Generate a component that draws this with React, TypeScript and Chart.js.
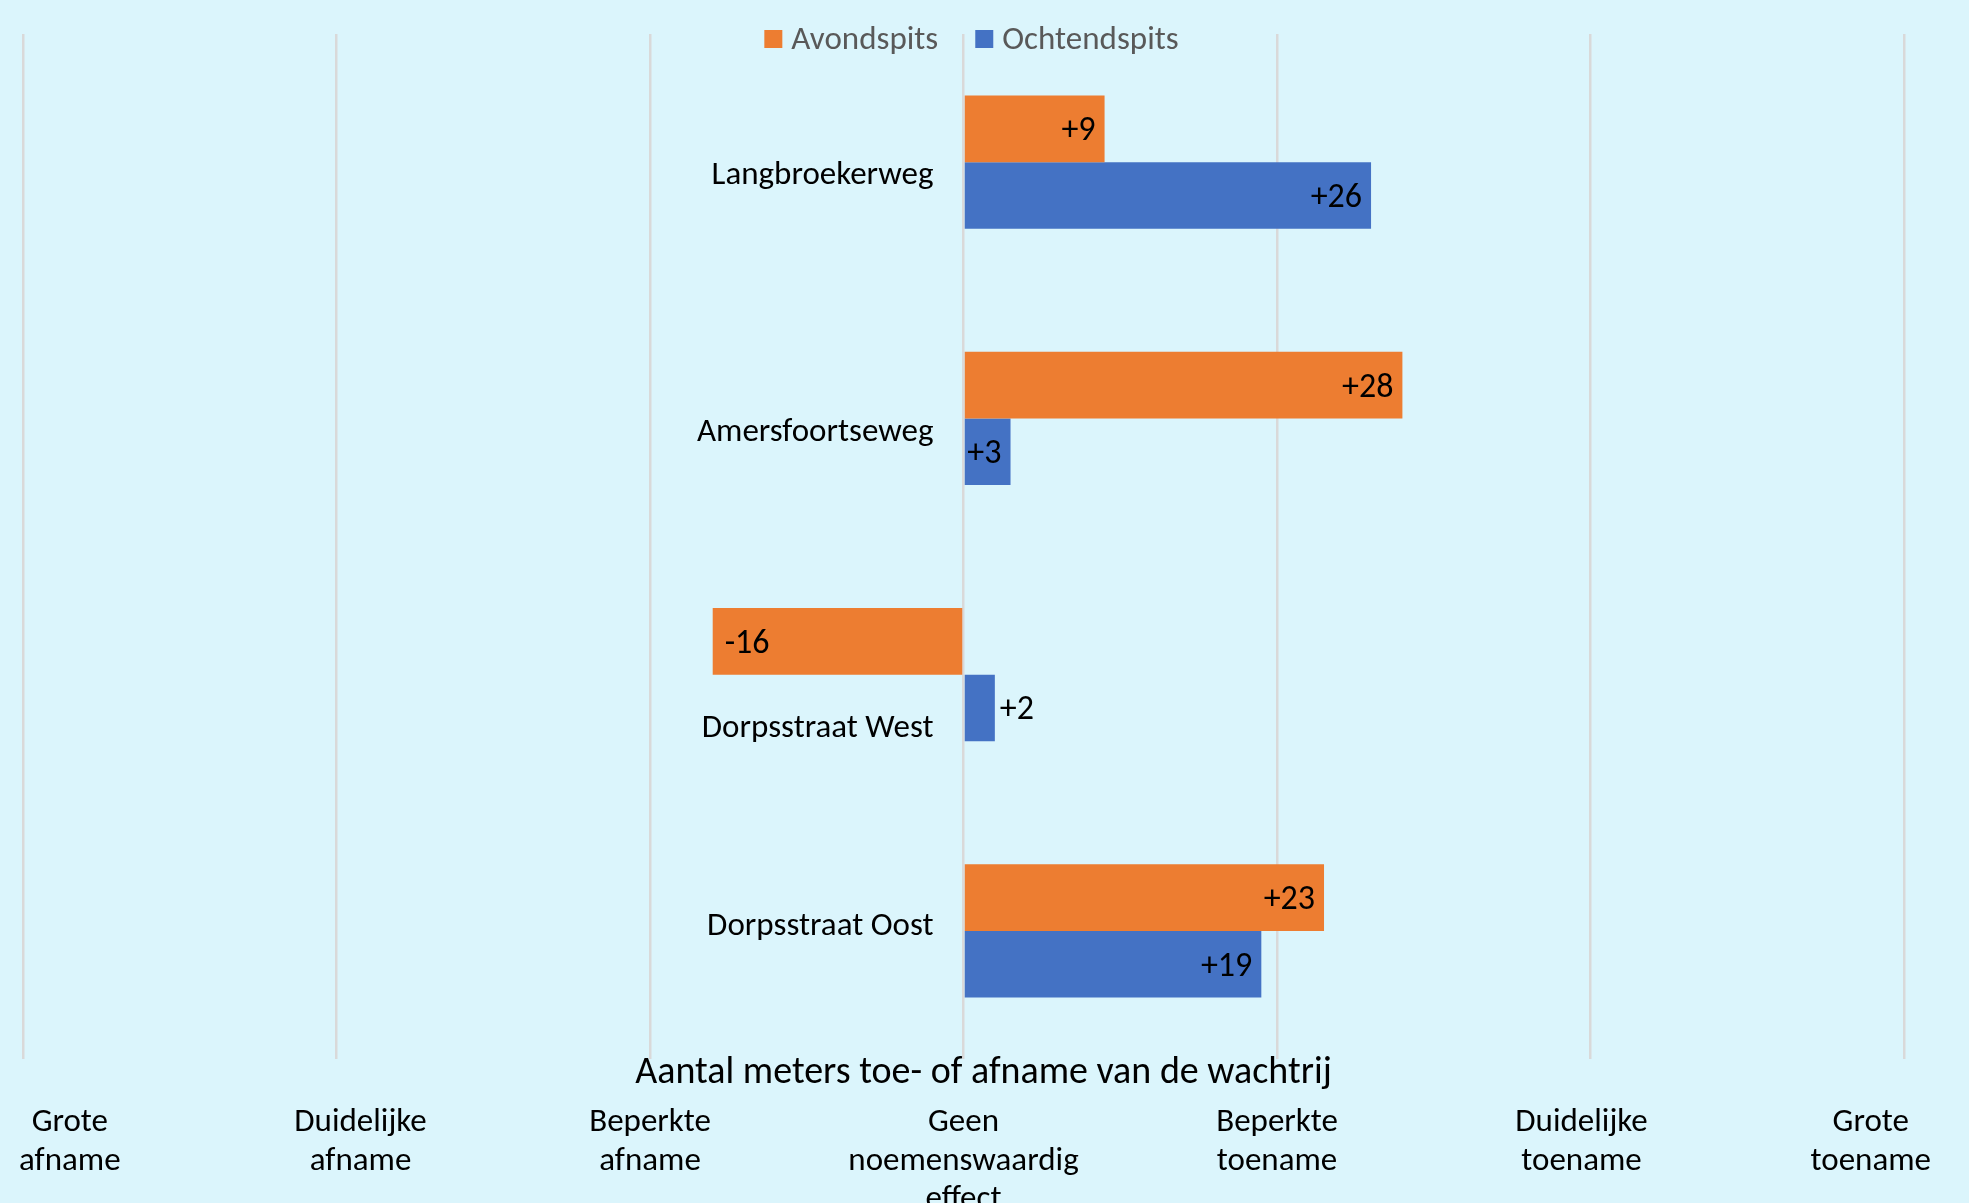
import React, { useEffect, useRef } from "react";
import { Chart, registerables } from "chart.js";

Chart.register(...registerables);

// Queue-length change per location, in metres
const categories = ["Langbroekerweg", "Amersfoortseweg", "Dorpsstraat West", "Dorpsstraat Oost"];
const seriesNames = ["Avondspits", "Ochtendspits"];
const avondspits = [9, 28, -16, 23];
const ochtendspits = [26, 3, 2, 19];

// Value axis: gridline positions and the verbal scale printed beneath them
const xTickValues = [-60, -40, -20, 0, 20, 40, 60];
const xTickLabels = [
  ["Grote", "afname"],
  ["Duidelijke", "afname"],
  ["Beperkte", "afname"],
  ["Geen", "noemenswaardig", "effect"],
  ["Beperkte", "toename"],
  ["Duidelijke", "toename"],
  ["Grote", "toename"],
];
const axisTitle = "Aantal meters toe- of afname van de wachtrij";

// Styling
const WIDTH = 1969;
const HEIGHT = 1203;
const BG = "#DBF5FC";
const ORANGE = "#ED7D31";
const BLUE = "#4472C4";
const GRID = "#D9D9D9";
const FONT = "Carlito, Lato, 'Open Sans', sans-serif";
const LABEL_SIZE = 33;
const VALUE_SIZE = 34;
const TITLE_SIZE = 38;
const TEXT_NUDGE = 3;
const categoryLabelShift = [11, 11, 51, -7];
const tickLabelShift = [0, 24, 0, 0, 0, -9, 0];

const font = (size: number) => `${size}px ${FONT}`;

const backgroundPlugin = {
  id: "bgFill",
  beforeDraw(chart: any) {
    const { ctx } = chart;
    ctx.save();
    ctx.fillStyle = BG;
    ctx.fillRect(0, 0, chart.width, chart.height);
    ctx.restore();
  },
};

const annotationsPlugin = {
  id: "chartText",
  afterDatasetsDraw(chart: any) {
    const { ctx, chartArea, scales } = chart;
    const x = scales.x;
    const y = scales.y;
    ctx.save();

    // value labels on the bars
    ctx.font = font(VALUE_SIZE);
    ctx.fillStyle = "#000";
    ctx.textBaseline = "middle";
    chart.data.datasets.forEach((ds: any, di: number) => {
      const meta = chart.getDatasetMeta(di);
      meta.data.forEach((bar: any, i: number) => {
        const v = ds.data[i] as number;
        const text = (v > 0 ? "+" : "") + v;
        const w = ctx.measureText(text).width;
        const len = Math.abs(bar.x - bar.base);
        const pad = 9;
        const ty = bar.y + TEXT_NUDGE;
        if (v >= 0) {
          if (w + pad <= len) {
            ctx.textAlign = "right";
            ctx.fillText(text, bar.x - pad, ty);
          } else {
            ctx.textAlign = "left";
            ctx.fillText(text, bar.x + 5, ty);
          }
        } else {
          if (w + pad <= len) {
            ctx.textAlign = "left";
            ctx.fillText(text, bar.x + pad + 3, ty);
          } else {
            ctx.textAlign = "right";
            ctx.fillText(text, bar.x - 5, ty);
          }
        }
      });
    });

    // category names beside the zero line
    ctx.font = font(LABEL_SIZE);
    const zero = x.getPixelForValue(0);
    ctx.textAlign = "right";
    categories.forEach((c, i) => {
      ctx.fillText(c, zero - 30, y.getPixelForValue(i) + categoryLabelShift[i] + TEXT_NUDGE);
    });

    // axis title
    ctx.font = font(TITLE_SIZE);
    ctx.textAlign = "center";
    ctx.fillText(axisTitle, (chartArea.left + chartArea.right) / 2 + 20, chartArea.bottom + 14);

    // verbal scale under the gridlines
    ctx.font = font(LABEL_SIZE);
    xTickValues.forEach((v, i) => {
      const lines = xTickLabels[i];
      const w = Math.max(...lines.map((l) => ctx.measureText(l).width));
      const px = x.getPixelForValue(v) + tickLabelShift[i];
      const cx = Math.min(Math.max(px, 19 + w / 2), chart.width - 38 - w / 2);
      lines.forEach((l, li) => {
        ctx.fillText(l, cx, chartArea.bottom + 64 + li * 38.5);
      });
    });

    // legend
    ctx.font = font(LABEL_SIZE);
    const box = 18;
    const gapBoxText = 9;
    const gapItems = 37;
    const colors = [ORANGE, BLUE];
    const widths = seriesNames.map((n) => box + gapBoxText + ctx.measureText(n).width);
    const total = widths.reduce((a, b) => a + b, 0) + gapItems;
    let lx = (chartArea.left + chartArea.right) / 2 + 8 - total / 2;
    const ly = 39;
    seriesNames.forEach((n, i) => {
      ctx.fillStyle = colors[i];
      ctx.fillRect(lx, ly - box / 2, box, box);
      ctx.fillStyle = "#595959";
      ctx.textAlign = "left";
      ctx.fillText(n, lx + box + gapBoxText, ly + 2);
      lx += widths[i] + gapItems;
    });

    ctx.restore();
  },
};

export default function App() {
  const canvasRef = useRef<HTMLCanvasElement | null>(null);

  useEffect(() => {
    document.body.style.margin = "0";
    document.body.style.overflow = "hidden";
    const canvas = canvasRef.current;
    if (!canvas) return;
    const chart = new Chart(canvas, {
      type: "bar",
      data: {
        labels: categories,
        datasets: [
          { label: seriesNames[0], data: avondspits, backgroundColor: ORANGE },
          { label: seriesNames[1], data: ochtendspits, backgroundColor: BLUE },
        ],
      },
      options: {
        indexAxis: "y",
        responsive: false,
        animation: false,
        events: [],
        layout: { padding: { left: 23, right: WIDTH - 1904, top: 34, bottom: HEIGHT - 1059 } },
        datasets: { bar: { categoryPercentage: 0.52, barPercentage: 1 } },
        plugins: { legend: { display: false }, tooltip: { enabled: false } },
        scales: {
          x: {
            type: "linear",
            min: -60,
            max: 60,
            ticks: { display: false, stepSize: 20 },
            grid: { color: GRID, lineWidth: 2.5, drawTicks: false },
            border: { display: false },
          },
          y: { type: "category", display: false },
        },
      },
      plugins: [backgroundPlugin, annotationsPlugin],
    } as any);
    return () => chart.destroy();
  }, []);

  return (
    <div style={{ width: WIDTH, height: HEIGHT }}>
      <canvas ref={canvasRef} width={WIDTH} height={HEIGHT} style={{ display: "block" }} />
    </div>
  );
}
